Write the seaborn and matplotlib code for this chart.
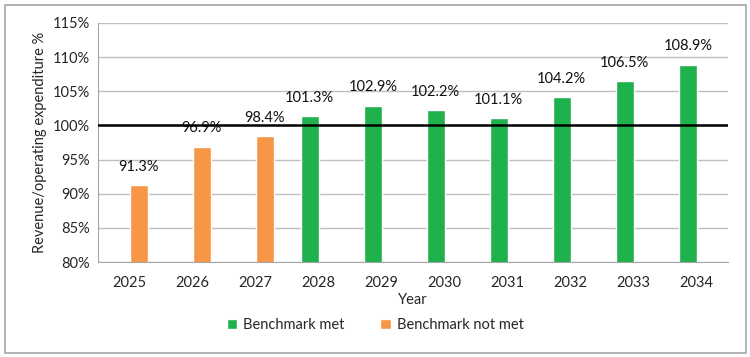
import numpy as np
import matplotlib
matplotlib.use("Agg")
import matplotlib.pyplot as plt
import matplotlib.ticker as mtick
from matplotlib.patches import Rectangle
import pandas as pd
import seaborn as sb

# chart values
years = ["2025", "2026", "2027", "2028", "2029", "2030", "2031", "2032", "2033", "2034"]
ratio = [91.3, 96.9, 98.4, 101.3, 102.9, 102.2, 101.1, 104.2, 106.5, 108.9]
status = ["Benchmark not met"] * 3 + ["Benchmark met"] * 7
hue_order = ["Benchmark met", "Benchmark not met"]
colours = {"Benchmark met": "#1FB14C", "Benchmark not met": "#F79646"}

data = pd.DataFrame({"Year": years, "Ratio": ratio, "Status": status})

sb.set_style("white")
plt.rcParams["font.family"] = ["Lato", "DejaVu Sans"]

fig = plt.figure(figsize=(7.5, 3.57), dpi=100)
ax = fig.add_axes([0.131, 0.266, 0.84, 0.67])

sb.barplot(data=data, x="Year", y="Ratio", hue="Status", hue_order=hue_order,
           palette=colours, dodge=True, width=0.57, saturation=1, ax=ax)

# labels on each bar
for cont in ax.containers:
    ax.bar_label(cont, labels=[f"{v:.1f}%" if not np.isnan(v) else "" for v in cont.datavalues],
                 padding=8, fontsize=10.5, color="#111111")

ax.set_ylim(80, 115)
ax.yaxis.set_major_locator(mtick.MultipleLocator(5))
ax.yaxis.set_major_formatter(mtick.FormatStrFormatter("%d%%"))
ax.grid(axis="y", color="#BFBFBF", lw=1)
ax.set_axisbelow(True)
ax.axhline(100, color="black", lw=1.8, zorder=5)

ax.set_xlim(-0.5, len(years) - 0.5)
ax.set_xticks(np.arange(-0.5, len(years)), minor=True)
ax.tick_params(axis="x", which="major", length=0, pad=10, labelsize=10.5)
ax.tick_params(axis="x", which="minor", length=5, color="#A6A6A6", width=1)
ax.tick_params(axis="y", length=4, color="#A6A6A6", labelsize=10.5, pad=2)

for s in ["top", "right"]:
    ax.spines[s].set_visible(False)
for s in ["left", "bottom"]:
    ax.spines[s].set_color("#A6A6A6")

ax.set_xlabel("Year", fontsize=10.5, labelpad=2)
ax.set_ylabel("Revenue/operating expenditure %", fontsize=10.5, labelpad=4)

ax.legend(loc="center", bbox_to_anchor=(0.5, 0.09), bbox_transform=fig.transFigure,
          ncol=2, frameon=False, fontsize=10.5, handlelength=0.7, handleheight=0.7,
          columnspacing=2.5, handletextpad=0.4, title=None)

# outer chart border
fig.patches.append(Rectangle((0.006, 0.012), 0.988, 0.975, transform=fig.transFigure,
                             fill=False, edgecolor="#A6A6A6", lw=1.2))

fig.savefig("out.png", dpi=100)
